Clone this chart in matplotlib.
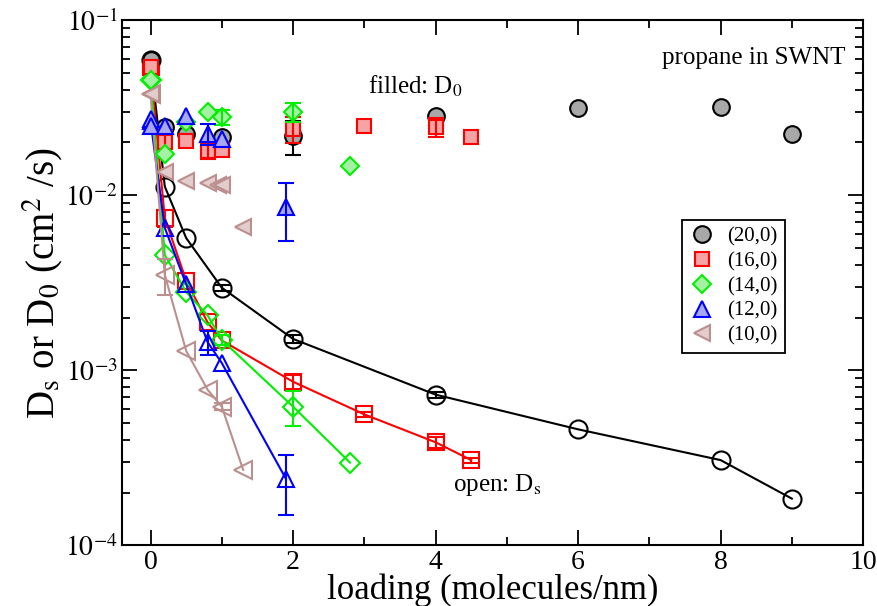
import numpy as np
import matplotlib
matplotlib.use("Agg")
import matplotlib.pyplot as plt
from matplotlib.lines import Line2D

plt.rcParams['font.family'] = ['Liberation Serif', 'DejaVu Serif']
plt.rcParams['mathtext.fontset'] = 'stix'

labels = ["(20,0)", "(16,0)", "(14,0)", "(12,0)", "(10,0)"]
colors = ["black", "#ff0000", "#00f000", "#0000ff", "#bc8f8f"]
fills = ["#a8a8a8", "#f5a3a3", "#a6f0a6", "#a8a8f0", "#e2cccc"]
markers = ["o", "s", "D", "^", "<"]
msizes = [12, 10, 9, 11, 12]

# filled tubes: D0
x20_f = [0, 0.2, 0.5, 1.0, 2, 4, 6, 8, 9]
y20_f = [0.059, 0.0245, 0.0222, 0.0214, 0.0218, 0.0283, 0.0313, 0.0318, 0.0222]
e20_f = [0, 0, 0, 0, 0.0048, 0, 0, 0, 0]

x16_f = [0, 0.2, 0.5, 0.8, 1.0, 2, 3, 4, 4.5]
y16_f = [0.054, 0.0201, 0.0204, 0.0179, 0.018, 0.0239, 0.0248, 0.0245, 0.0215]
e16_f = [0, 0.003, 0, 0.0018, 0, 0.004, 0, 0.003, 0]

x14_f = [0, 0.2, 0.5, 0.8, 1.0, 2, 2.8]
y14_f = [0.0457, 0.0172, 0.0262, 0.0298, 0.0279, 0.0298, 0.0147]
e14_f = [0, 0, 0, 0, 0.0027, 0.0038, 0]

x12_f = [0, 0, 0.2, 0.5, 0.8, 1.0, 1.9]
y12_f = [0.0272, 0.0249, 0.0249, 0.0282, 0.0224, 0.021, 0.0086]
e12_f = [0, 0, 0, 0, 0.003, 0, 0.0031]

x10_f = [0, 0.2, 0.5, 0.8, 0.95, 1.0, 1.3]
y10_f = [0.0376, 0.0136, 0.0121, 0.0118, 0.0115, 0.0115, 0.00656]
e10_f = [0, 0, 0, 0, 0, 0, 0]

# open tubes: Ds
x20_o = [0, 0.2, 0.5, 1.0, 2, 4, 6, 8, 9]
y20_o = [0.059, 0.0112, 0.00569, 0.00296, 0.00151, 0.000726, 0.00046, 0.000307, 0.000185]
e20_o = [0, 0, 0, 0.00012, 0.00008, 0.00003, 0, 0, 0]

x16_o = [0, 0.2, 0.5, 0.8, 1.0, 2, 3, 4, 4.5]
y16_o = [0.054, 0.0074, 0.00325, 0.00188, 0.00148, 0.00086, 0.00056, 0.000388, 0.000307]
e16_o = [0, 0.0008, 0, 0, 0, 0.00008, 0.00002, 0.00003, 0.00001]

x14_o = [0, 0.2, 0.5, 0.8, 1.0, 2, 2.8]
y14_o = [0.0457, 0.00456, 0.0028, 0.00206, 0.00149, 0.00062, 0.000297]
e14_o = [0, 0, 0, 0, 0.0001, 0.00014, 0]

x12_o = [0, 0.2, 0.5, 0.8, 1.0, 1.9]
y12_o = [0.0265, 0.0065, 0.0031, 0.00145, 0.0011, 0.00024]
e12_o = [0, 0, 0, 0.00022, 0, 0.00009]

x10_o = [0, 0.2, 0.5, 0.8, 1.0, 1.3]
y10_o = [0.0376, 0.0035, 0.00129, 0.000775, 0.00062, 0.00027]
e10_o = [0, 0.0008, 0, 0, 0.00003, 0]

filled = [(x20_f, y20_f, e20_f), (x16_f, y16_f, e16_f), (x14_f, y14_f, e14_f),
          (x12_f, y12_f, e12_f), (x10_f, y10_f, e10_f)]
opened = [(x20_o, y20_o, e20_o), (x16_o, y16_o, e16_o), (x14_o, y14_o, e14_o),
          (x12_o, y12_o, e12_o), (x10_o, y10_o, e10_o)]

fig = plt.figure(figsize=(8.78, 6.06), dpi=100)
ax = fig.add_axes([0.139, 0.10, 0.844, 0.867])
ax.set_yscale('log')


def draw_err(x, y, e, c, z):
    x, y, e = np.array(x), np.array(y), np.array(e)
    m = e > 0
    if m.any():
        ax.errorbar(x[m], y[m], yerr=e[m], fmt='none', ecolor=c, elinewidth=1.5,
                    capsize=6, capthick=1.5, zorder=z)


# open (lines) first, filled on top
for i in range(5):
    x, y, e = opened[i]
    ax.plot(x, y, color=colors[i], lw=1.5, marker=markers[i], ms=msizes[i] + 1,
            mfc='none', mec=colors[i], mew=1.5, zorder=2)
    draw_err(x, y, e, colors[i], 2)

for i in range(5):
    x, y, e = filled[i]
    ax.plot(x, y, ls='none', marker=markers[i], ms=msizes[i], mfc=fills[i],
            mec=colors[i], mew=1.5, zorder=3)
    draw_err(x, y, e, colors[i], 3)

ax.set_xlim(-0.4, 10)
ax.set_ylim(1e-4, 1e-1)
ax.set_xticks([0, 2, 4, 6, 8, 10])
ax.set_xticks([1, 3, 5, 7, 9], minor=True)
ax.set_yticks([1e-4, 1e-3, 1e-2, 1e-1])
ax.set_yticklabels(['$10^{-4}$', '$10^{-3}$', '$10^{-2}$', '$10^{-1}$'])
ax.tick_params(which='both', direction='in', top=True, right=True, width=1.3)
ax.tick_params(which='major', length=11, labelsize=20, pad=3)
ax.tick_params(which='minor', length=6)
for s in ax.spines.values():
    s.set_linewidth(1.5)

ax.set_xlabel('loading (molecules/nm)', fontsize=25, labelpad=-1)
ax.set_ylabel(r'D$_\mathrm{s}$ or D$_0$ (cm$^2$ /s)', fontsize=28, labelpad=0)

ax.text(3.05, 0.042, r'filled: D$_0$', fontsize=18, ha='left', va='center')
ax.text(4.24, 0.00022, r'open: D$_\mathrm{s}$', fontsize=18, ha='left', va='center')
ax.text(9.75, 0.061, 'propane in SWNT', fontsize=18, ha='right', va='center')

handles = [Line2D([], [], ls='none', marker=markers[i], ms=msizes[i], mfc=fills[i],
                  mec=colors[i], mew=1.5) for i in range(5)]
leg = ax.legend(handles, labels, loc='upper left', bbox_to_anchor=(0.756, 0.62),
                fontsize=15, frameon=True, fancybox=False, edgecolor='black',
                framealpha=1, borderpad=0.35, labelspacing=0.25, handletextpad=0.6,
                handlelength=1.2, borderaxespad=0)
leg.get_frame().set_linewidth(1.3)

fig.savefig("out.png", dpi=100)
